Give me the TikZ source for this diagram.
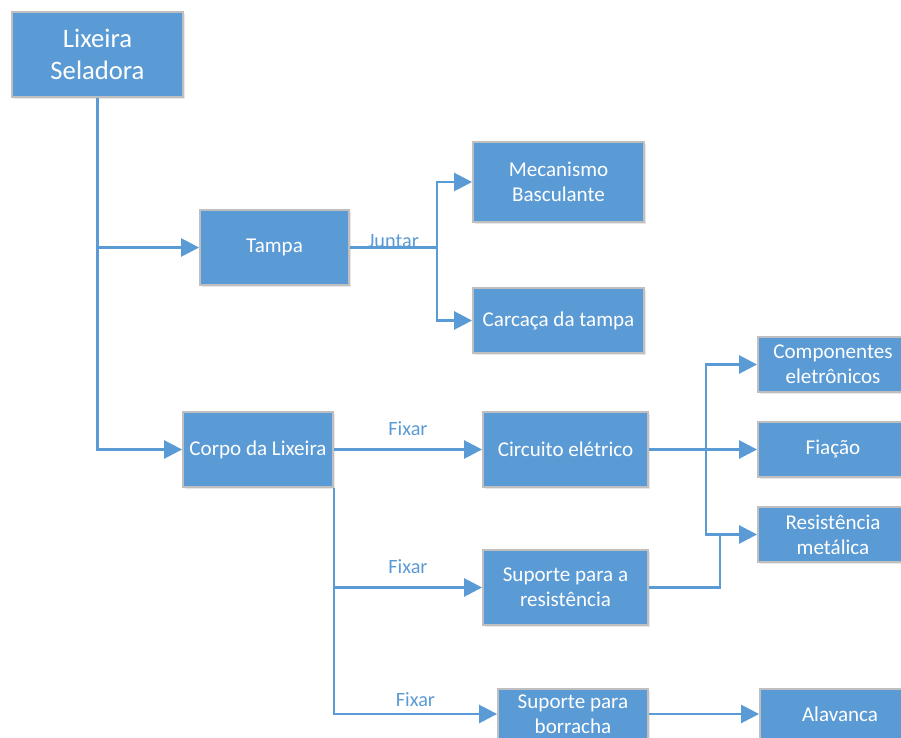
\documentclass[tikz,border=0pt]{standalone}
\usepackage{fontspec}
\setmainfont{Carlito}
\usetikzlibrary{arrows.meta,positioning,shadows}
\definecolor{boxblue}{HTML}{5B9BD5}
\definecolor{boxedge}{HTML}{BFBFBF}

\begin{document}
\begin{tikzpicture}[
  x=0.75pt, y=-0.75pt,
  block/.style={draw=boxedge, line width=1.4pt, fill=boxblue, text=white, rectangle, align=center,
    font=\fontsize{15.8}{18.8}\selectfont, inner sep=2pt,
    drop shadow={opacity=0.18, shadow xshift=1.2pt, shadow yshift=-1.2pt}},
  arr/.style={-{Triangle[length=13.5pt, width=13.5pt]}, line width=2pt, draw=boxblue},
  conn/.style={line width=2pt, draw=boxblue},
  lbl/.style={text=boxblue, font=\fontsize{15.2}{17}\selectfont, inner sep=0pt, anchor=base}
]
  \useasboundingbox (0,0) rectangle (901,738);
  \clip (0,0) rectangle (901,738);

  % blocos
  \node[block, minimum width=128.25pt, minimum height=63.75pt, font=\fontsize{20}{24}\selectfont] (lix) at (97.5,54.5) {Lixeira\\Seladora};
  \node[block, minimum width=111.75pt, minimum height=56.25pt] (tampa) at (274.5,247.5) {Tampa};
  \node[block, minimum width=128.25pt, minimum height=60pt] (mec) at (558.5,182) {Mecanismo\\Basculante};
  \node[block, minimum width=128.25pt, minimum height=48.75pt] (carc) at (558.5,320.5) {Carcaça da tampa};
  \node[block, minimum width=112.5pt, minimum height=56.25pt] (corpo) at (258,449.5) {Corpo da Lixeira};
  \node[block, minimum width=123.75pt, minimum height=56.25pt] (circ) at (565.5,449.5) {Circuito elétrico};
  \node[block, minimum width=112.5pt, minimum height=41.25pt] (comp) at (833,364.5) {Componentes\\eletrônicos};
  \node[block, minimum width=112.5pt, minimum height=41.25pt] (fia) at (833,449.5) {Fiação};
  \node[block, minimum width=112.5pt, minimum height=41.25pt] (resm) at (833,534.5) {Resistência\\metálica};
  \node[block, minimum width=123.75pt, minimum height=56.25pt] (supres) at (565.5,587.5) {Suporte para a\\resistência};
  \node[block, minimum width=112.5pt, minimum height=37.5pt] (supbor) at (573,714) {Suporte para\\borracha};
  \node[block, minimum width=120pt, minimum height=37.5pt] (alav) at (840,714) {Alavanca};

  % pontos de junção
  \coordinate (jt) at (437,247.5);
  \coordinate (jc) at (706,449.5);
  \coordinate (jr) at (720,534.5);

  % ligações
  \draw[arr] (lix.south) |- (tampa.west);
  \draw[arr] (lix.south) |- (corpo.west);
  \draw[conn] (tampa.east) -- node[lbl] {Juntar} (jt);
  \draw[arr] (jt) |- (mec.west);
  \draw[arr] (jt) |- (carc.west);
  \draw[arr] (corpo.east) -- node[lbl, yshift=10.5pt] {Fixar} (circ.west);
  \draw[arr] (corpo.south east) |- node[pos=0.75, lbl, yshift=10.5pt] {Fixar} (supres.west);
  \draw[arr] (corpo.south east) |- node[pos=0.75, lbl, yshift=6pt] {Fixar} (supbor.west);
  \draw[arr] (circ.east) -- (fia.west);
  \draw[arr] (jc) |- (comp.west);
  \draw[arr] (jc) |- (resm.west);
  \draw[conn] (supres.east) -| (jr);
  \draw[arr] (supbor.east) -- (alav.west);
\end{tikzpicture}
\end{document}
